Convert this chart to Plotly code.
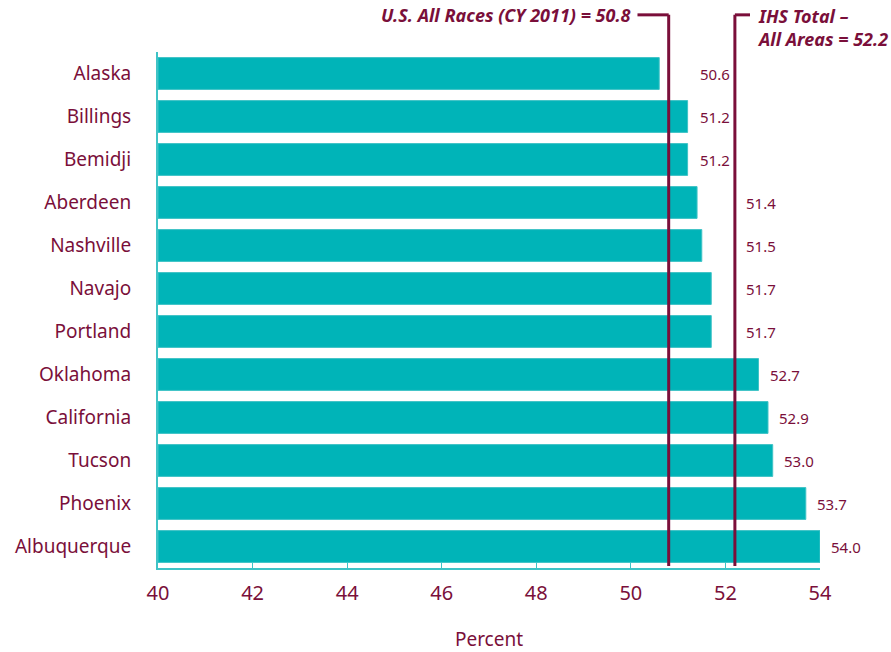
import plotly.graph_objects as go

# Percent by IHS area
areas = ["Alaska", "Billings", "Bemidji", "Aberdeen", "Nashville", "Navajo",
         "Portland", "Oklahoma", "California", "Tucson", "Phoenix", "Albuquerque"]
values = [50.6, 51.2, 51.2, 51.4, 51.5, 51.7, 51.7, 52.7, 52.9, 53.0, 53.7, 54.0]

# Reference values
us_all_races = 50.8
ihs_total = 52.2

tick_vals = [40, 42, 44, 46, 48, 50, 52, 54]

TEAL = "#00B4B8"
TEAL_EDGE = "#3FC3C6"
MAROON = "#7A0F3A"
FONT = "Noto Sans"

fig = go.Figure()
fig.add_trace(go.Bar(
    y=areas, x=[v - 40 for v in values], base=40, orientation="h",
    marker=dict(color=TEAL, line=dict(color=TEAL_EDGE, width=1)),
    width=0.74, hoverinfo="skip",
))

# Value labels: keep clear of the reference lines
lab_font = dict(size=15, color=MAROON, family=FONT)
for a, v in zip(areas, values):
    if v < us_all_races + 0.5:
        fig.add_annotation(x=ihs_total, y=a, text=f"{v:.1f}", showarrow=False,
                           xanchor="right", xshift=-3, font=lab_font)
    elif v < ihs_total:
        fig.add_annotation(x=ihs_total, y=a, text=f"{v:.1f}", showarrow=False,
                           xanchor="left", xshift=9, font=lab_font)
    else:
        fig.add_annotation(x=v, y=a, text=f"{v:.1f}", showarrow=False,
                           xanchor="left", xshift=9, font=lab_font)

top = 1.072
# Reference lines with elbow leaders
for xv, dx in [(us_all_races, -0.66), (ihs_total, 0.32)]:
    fig.add_shape(type="line", xref="x", yref="paper", x0=xv, x1=xv, y0=0.004, y1=top,
                  line=dict(color=MAROON, width=3), layer="above")
    fig.add_shape(type="line", xref="x", yref="paper", x0=xv + dx, x1=xv, y0=top, y1=top,
                  line=dict(color=MAROON, width=3), layer="above")

fig.add_annotation(x=us_all_races - 0.76, y=top, xref="x", yref="paper",
                   text="<b><i>U.S. All Races (CY 2011) = 50.8</i></b>", showarrow=False,
                   xanchor="right", yanchor="middle", font=dict(size=18, color=MAROON, family=FONT))
fig.add_annotation(x=ihs_total + 0.42, y=top, xref="x", yref="paper",
                   text="<b><i>IHS Total –<br>All Areas = 52.2</i></b>", showarrow=False,
                   xanchor="left", yanchor="top", yshift=13, align="left",
                   font=dict(size=18, color=MAROON, family=FONT))

fig.update_layout(
    width=891, height=652,
    margin=dict(l=158, r=71, t=52, b=84),
    plot_bgcolor="white", paper_bgcolor="white",
    showlegend=False, bargap=0.26,
    font=dict(family=FONT, color=MAROON),
)
fig.update_xaxes(
    range=[40, 54], tickvals=tick_vals, ticktext=[str(t) for t in tick_vals],
    showgrid=False, zeroline=False, showline=True, linecolor=TEAL_EDGE, linewidth=2,
    ticks="inside", ticklen=6, tickcolor=TEAL_EDGE, tickwidth=1,
    ticklabelstandoff=6, automargin=False,
    tickfont=dict(size=20, color=MAROON, family=FONT),
    title=dict(text="Percent", font=dict(size=19, color=MAROON, family=FONT), standoff=28),
)
fig.update_yaxes(
    categoryorder="array", categoryarray=areas, autorange="reversed",
    showgrid=False, zeroline=False, showline=True, linecolor=TEAL_EDGE, linewidth=2,
    ticks="", ticklabelstandoff=21, automargin=False,
    tickfont=dict(size=19, color=MAROON, family=FONT),
)

fig.write_html("out.html")
